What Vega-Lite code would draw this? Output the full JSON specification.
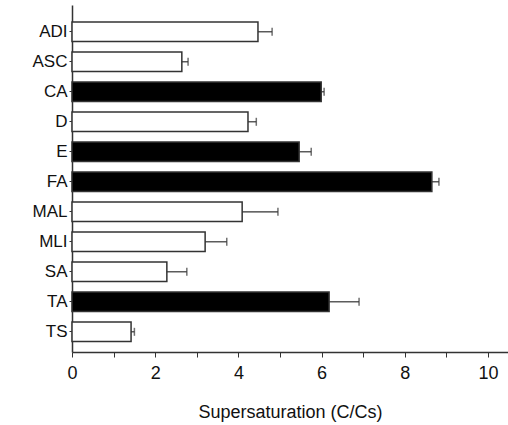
{
  "$schema": "https://vega.github.io/schema/vega-lite/v6.json",
  "width": 436,
  "height": 347,
  "autosize": {"type": "none"},
  "padding": {"left": 72, "top": 5, "right": 0, "bottom": 73},
  "background": "white",
  "config": {"view": {"stroke": null}, "font": "Liberation Sans"},
  "data": {
    "values": [
      {"cat": "ADI", "value": 4.47, "upper": 4.81, "group": "B"},
      {"cat": "ASC", "value": 2.64, "upper": 2.79, "group": "B"},
      {"cat": "CA", "value": 5.99, "upper": 6.06, "group": "A"},
      {"cat": "D", "value": 4.23, "upper": 4.43, "group": "B"},
      {"cat": "E", "value": 5.46, "upper": 5.75, "group": "A"},
      {"cat": "FA", "value": 8.65, "upper": 8.82, "group": "A"},
      {"cat": "MAL", "value": 4.09, "upper": 4.95, "group": "B"},
      {"cat": "MLI", "value": 3.2, "upper": 3.72, "group": "B"},
      {"cat": "SA", "value": 2.28, "upper": 2.76, "group": "B"},
      {"cat": "TA", "value": 6.18, "upper": 6.9, "group": "A"},
      {"cat": "TS", "value": 1.42, "upper": 1.5, "group": "B"}
    ]
  },
  "layer": [
    {
      "mark": {"type": "bar", "stroke": "#333", "strokeWidth": 1.5},
      "encoding": {
        "y": {
          "field": "cat", "type": "nominal", "sort": null,
          "scale": {"paddingInner": 0.35, "paddingOuter": 0.458, "align": 0.62},
          "axis": {"title": null, "labelFontSize": 17, "labelColor": "#111", "tickSize": 3, "labelPadding": 2, "domainColor": "#333", "domainWidth": 1.5, "tickColor": "#333"}
        },
        "x": {
          "field": "value", "type": "quantitative",
          "scale": {"domain": [0, 10.48], "nice": false, "zero": true},
          "axis": {"orient": "bottom", "values": [0, 1, 2, 3, 4, 5, 6, 7, 8, 9, 10], "labelExpr": "datum.value % 2 == 0 ? datum.label : ''", "title": "Supersaturation (C/Cs)", "titleFontSize": 18, "titleFontWeight": "normal", "titleColor": "#111", "titlePadding": 21, "grid": false, "labelFontSize": 18, "labelColor": "#111", "tickSize": 5, "labelPadding": 7, "domainColor": "#333", "domainWidth": 1.5, "tickColor": "#333", "labelFlush": false, "labelOverlap": false}
        },
        "fill": {"field": "group", "type": "nominal", "scale": {"domain": ["A", "B"], "range": ["#000000", "#ffffff"]}, "legend": null}
      }
    },
    {
      "mark": {"type": "rule", "stroke": "#333", "strokeWidth": 1.2},
      "encoding": {
        "y": {"field": "cat", "type": "nominal", "sort": null},
        "x": {"field": "value", "type": "quantitative"},
        "x2": {"field": "upper"}
      }
    },
    {
      "mark": {"type": "tick", "orient": "vertical", "size": 8, "thickness": 1.5, "color": "#333"},
      "encoding": {
        "y": {"field": "cat", "type": "nominal", "sort": null},
        "x": {"field": "upper", "type": "quantitative"}
      }
    }
  ]
}
